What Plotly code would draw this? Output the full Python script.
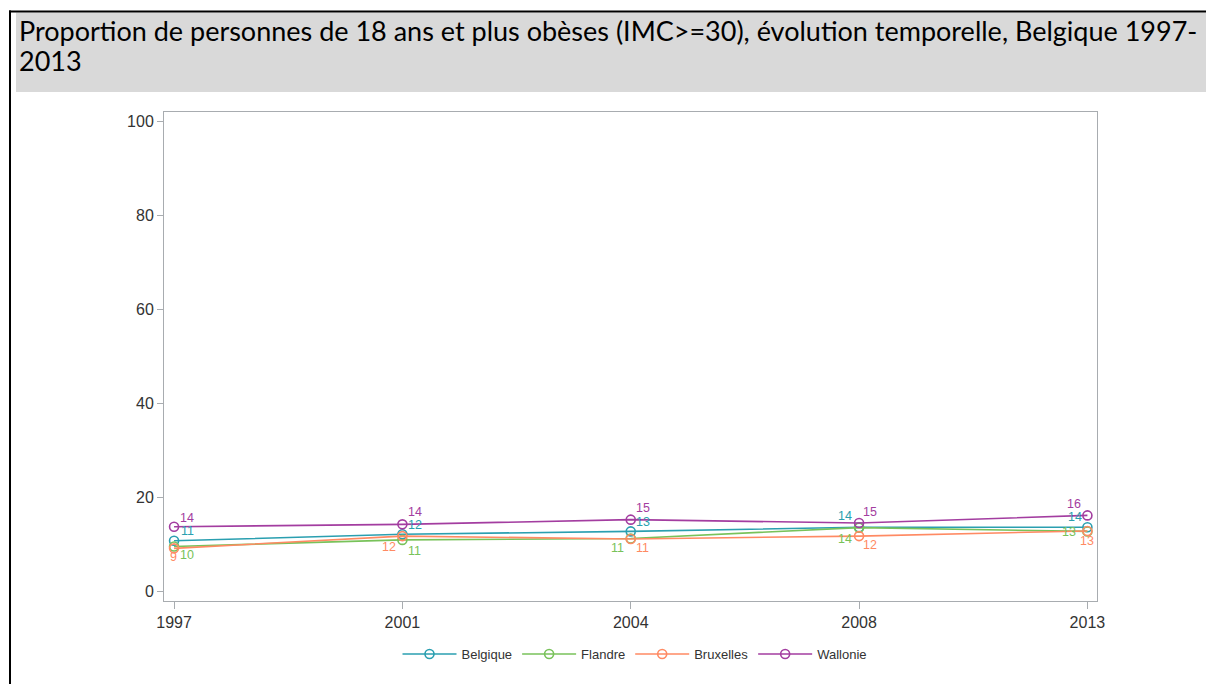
import plotly.graph_objects as go

years = ["1997", "2001", "2004", "2008", "2013"]
belgique = [10.8, 12.2, 12.8, 13.7, 13.7]
flandre = [9.6, 11.0, 11.3, 13.6, 12.8]
bruxelles = [9.2, 11.8, 11.2, 11.8, 12.9]
wallonie = [13.8, 14.3, 15.3, 14.6, 16.2]
y_ticks = [0, 20, 40, 60, 80, 100]

# label offsets (pixels) relative to each marker: (dx, dy) with dy positive = upward
label_offsets = {
    "Belgique": [(13, 10), (13, 9), (12, 9), (-14, 11), (-12, 10)],
    "Flandre": [(13, -9), (12, -11), (-13, -10), (-14, -11), (-18, -1)],
    "Bruxelles": [(-1, -9), (-13, -11), (12, -9), (11, -9), (0, -10)],
    "Wallonie": [(13, 9), (13, 12), (12, 12), (11, 11), (-13, 11)],
}

series = [
    ("Belgique", belgique, "#2A9FB0"),
    ("Flandre", flandre, "#78C25A"),
    ("Bruxelles", bruxelles, "#FF8A63"),
    ("Wallonie", wallonie, "#A33DA0"),
]

W, H = 1206, 684
L, R, T, B = 164, 1097, 112, 601
pw, ph = R - L, B - T


def px(x):
    return (x - L) / pw


def py(y):
    return (B - y) / ph


fig = go.Figure()
annotations = []
for name, vals, col in series:
    fig.add_trace(go.Scatter(
        x=years, y=vals, name=name, mode="lines+markers",
        line=dict(color=col, width=1.6),
        marker=dict(symbol="circle-open", size=9, color=col, line=dict(width=1.6)),
    ))
    for i, (v, (dx, dy)) in enumerate(zip(vals, label_offsets[name])):
        # category axis: annotation x is the category's index on the axis
        annotations.append(dict(
            x=i, y=v, xref="x", yref="y", text=str(int(round(v))), showarrow=False,
            xshift=dx, yshift=dy, xanchor="center", yanchor="middle",
            font=dict(color=col, size=12.5, family="Liberation Sans, Arial, sans-serif"),
        ))

axis_col = "#A8ACB0"
tick_font = dict(family="Liberation Sans, Arial, sans-serif", size=16, color="#333333")
title_font = dict(family="Lato, sans-serif", size=27, color="black")

annotations += [
    dict(xref="paper", yref="paper", x=px(17), y=py(30), xanchor="left", yanchor="middle",
         text="Proportion de personnes de 18 ans et plus obèses (IMC>=30), évolution temporelle, Belgique 1997-",
         showarrow=False, font=title_font),
    dict(xref="paper", yref="paper", x=px(17), y=py(60), xanchor="left", yanchor="middle",
         text="2013", showarrow=False, font=title_font),
]

fig.update_layout(
    width=W, height=H,
    margin=dict(l=L, r=W - R, t=T, b=H - B, pad=0),
    paper_bgcolor="white", plot_bgcolor="white",
    showlegend=True,
    legend=dict(orientation="h", x=px(635), y=py(654), xanchor="center", yanchor="middle",
                font=dict(family="Liberation Sans, Arial, sans-serif", size=13, color="#333333"),
                itemwidth=54, tracegroupgap=0, bgcolor="rgba(0,0,0,0)"),
    xaxis=dict(type="category", range=[-0.044, 4.042], showgrid=False, zeroline=False,
               showline=True, linecolor=axis_col, linewidth=1, mirror=True,
               ticks="outside", ticklen=7, tickcolor=axis_col, tickfont=tick_font),
    yaxis=dict(range=[-2, 102], tickvals=y_ticks, showgrid=False, zeroline=False,
               showline=True, linecolor=axis_col, linewidth=1, mirror=True,
               ticks="outside", ticklen=6, tickcolor=axis_col, tickfont=tick_font),
    shapes=[
        dict(type="rect", xref="paper", yref="paper", x0=px(16), x1=px(1210),
             y0=py(92), y1=py(12.5), fillcolor="#D9D9D9", line=dict(width=0), layer="below"),
        dict(type="line", xref="paper", yref="paper", x0=px(9), x1=px(1210),
             y0=py(11.5), y1=py(11.5), line=dict(color="black", width=2)),
        dict(type="line", xref="paper", yref="paper", x0=px(10), x1=px(10),
             y0=py(10.5), y1=py(690), line=dict(color="black", width=2)),
    ],
    annotations=annotations,
)

fig.write_html("out.html", config={"displayModeBar": False},
               post_script="document.body.style.margin='0';document.body.style.overflow='hidden';")
